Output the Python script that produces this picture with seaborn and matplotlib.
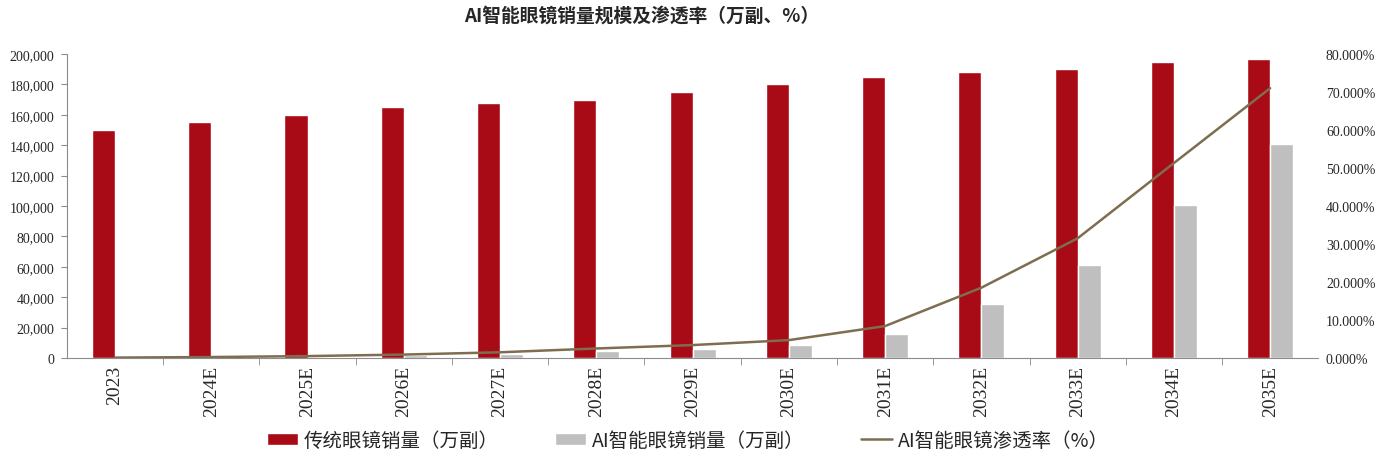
import numpy as np
import pandas as pd
import matplotlib
matplotlib.use('Agg')
import matplotlib.pyplot as plt
import seaborn as sns
from matplotlib.ticker import FuncFormatter, FixedLocator
from matplotlib.patches import Patch
from matplotlib.lines import Line2D

years = ['2023', '2024E', '2025E', '2026E', '2027E', '2028E', '2029E',
         '2030E', '2031E', '2032E', '2033E', '2034E', '2035E']
traditional = [150000, 155000, 160000, 165000, 168000, 170000, 175000,
               180000, 185000, 188000, 190000, 195000, 197000]
ai_glasses = [200, 400, 800, 1800, 2600, 4400, 6100,
              8500, 16000, 35500, 61000, 100500, 140500]
penetration = [0.001, 0.0025, 0.005, 0.009, 0.015, 0.025, 0.034,
               0.047, 0.084, 0.185, 0.315, 0.513, 0.71]

s_trad = '传统眼镜销量（万副）'
s_ai = 'AI智能眼镜销量（万副）'
s_pen = 'AI智能眼镜渗透率（%）'

RED = '#A80A16'
GRAY = '#BFBFBF'
LINE = '#7F6D50'

sns.set_style('white')
plt.rcParams['font.family'] = ['Noto Sans CJK SC', 'DejaVu Sans']
SERIF = ['Liberation Serif', 'DejaVu Serif']

df = pd.DataFrame({
    'year': years * 2,
    'value': traditional + ai_glasses,
    'series': [s_trad] * len(years) + [s_ai] * len(years),
})

fig = plt.figure(figsize=(13.95, 4.6), dpi=100)
ax = fig.add_axes([0.048, 0.2196, 0.897, 0.6608])

sns.barplot(data=df, x='year', y='value', hue='series', order=years,
            hue_order=[s_trad, s_ai], palette=[RED, GRAY], width=0.48,
            gap=0, ax=ax, legend=False, saturation=1)

ax2 = ax.twinx()
sns.lineplot(x=years, y=penetration, ax=ax2, color=LINE, linewidth=1.8,
             sort=False)

ax.set_xlim(-0.5, len(years) - 0.5)
ax.set_ylim(0, 200000)
ax2.set_ylim(0, 0.8)
ax.set_yticks(np.arange(0, 200001, 20000))
ax2.set_yticks(np.arange(0, 0.81, 0.1))
ax.yaxis.set_major_formatter(FuncFormatter(lambda v, p: f'{int(v):,}'))
ax2.yaxis.set_major_formatter(FuncFormatter(lambda v, p: f'{v*100:.3f}%'))

ax.set_xlabel('')
ax.set_ylabel('')
ax2.set_ylabel('')

for sp in ['top', 'right']:
    ax.spines[sp].set_visible(False)
for sp in ['top', 'right', 'left', 'bottom']:
    ax2.spines[sp].set_visible(False)
ax.spines['left'].set_color('#8C8C8C')
ax.spines['bottom'].set_color('#8C8C8C')

ax.tick_params(axis='y', which='major', left=True, length=4, color='#8C8C8C',
               labelsize=10, pad=5)
ax2.tick_params(axis='y', right=False, labelsize=10, pad=2)
for lab in ax.get_yticklabels() + ax2.get_yticklabels():
    lab.set_family(SERIF)

ax.tick_params(axis='x', which='major', length=0, labelsize=14,
               rotation=90, pad=5)
ax.xaxis.set_minor_locator(FixedLocator(np.arange(0.5, len(years) - 0.5, 1)))
ax.tick_params(axis='x', which='minor', bottom=True, length=5,
               color='#8C8C8C')
for lab in ax.get_xticklabels():
    lab.set_family(SERIF)

fig.suptitle('AI智能眼镜销量规模及渗透率（万副、%）', x=0.46, y=0.985,
             fontsize=13.5, fontweight='heavy')

handles = [Patch(facecolor=RED, label=s_trad),
           Patch(facecolor=GRAY, label=s_ai),
           Line2D([0], [0], color=LINE, linewidth=1.8, label=s_pen)]
fig.legend(handles=handles, loc='lower center', ncol=3, frameon=False,
           bbox_to_anchor=(0.493, -0.02), fontsize=14, columnspacing=2.9,
           handlelength=1.6, handleheight=0.6, handletextpad=0.3)

fig.savefig('out.png', dpi=100)
